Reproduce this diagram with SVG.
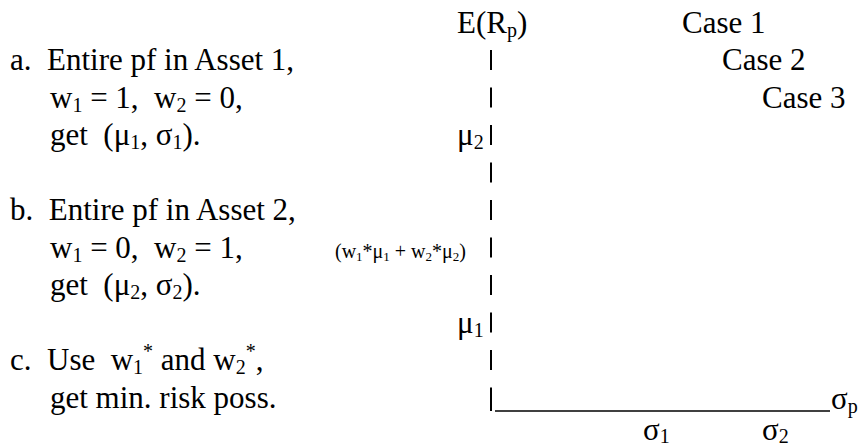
<svg xmlns="http://www.w3.org/2000/svg" width="863" height="446" viewBox="0 0 863 446">
<style>
text{font-size:31px;fill:#000;white-space:pre}
.sm{font-size:20px}
.sub{font-size:20px}
.sub2{font-size:13px}
.axis{stroke:#000;fill:none}
</style>
<rect width="863" height="446" fill="#fff"/>
<g font-family="'Liberation Serif', 'DejaVu Serif', 'Times New Roman', Times, serif">
<g id="steps">
<text x="10" y="70" xml:space="preserve">a.  Entire pf in Asset 1,</text>
<text x="50" y="107.5" xml:space="preserve">w<tspan class="sub" dy="4">1</tspan><tspan dy="-4"> = 1,  w</tspan><tspan class="sub" dy="4">2</tspan><tspan dy="-4"> = 0,</tspan></text>
<text x="50" y="145" xml:space="preserve">get  (μ<tspan class="sub" dy="4">1</tspan><tspan dy="-4">, σ</tspan><tspan class="sub" dy="4">1</tspan><tspan dy="-4">).</tspan></text>
<text x="10" y="220" xml:space="preserve">b.  Entire pf in Asset 2,</text>
<text x="50" y="257.5" xml:space="preserve">w<tspan class="sub" dy="4">1</tspan><tspan dy="-4"> = 0,  w</tspan><tspan class="sub" dy="4">2</tspan><tspan dy="-4"> = 1,</tspan></text>
<text x="50" y="295" xml:space="preserve">get  (μ<tspan class="sub" dy="4">2</tspan><tspan dy="-4">, σ</tspan><tspan class="sub" dy="4">2</tspan><tspan dy="-4">).</tspan></text>
<text x="10" y="370" xml:space="preserve">c.  Use  w<tspan class="sub" dy="4">1</tspan><tspan class="sub" dy="-16">*</tspan><tspan dy="12"> and w</tspan><tspan class="sub" dy="4">2</tspan><tspan class="sub" dy="-16">*</tspan><tspan dy="12">,</tspan></text>
<text x="50" y="407.5" xml:space="preserve">get min. risk poss.</text>
</g>
<g id="cases">
<text x="682" y="32.5">Case 1</text>
<text x="722" y="70">Case 2</text>
<text x="762" y="107.5">Case 3</text>
</g>
<g id="y-axis">
<text x="457" y="32.5">E(R<tspan class="sub" dy="4">p</tspan><tspan dy="-4">)</tspan></text>
<line class="axis" x1="491" y1="50" x2="491" y2="407.5" stroke-width="2" stroke-dasharray="20 17.5"/>
<line class="axis" x1="491" y1="405" x2="491" y2="411" stroke-width="2"/>
<text x="457" y="145">μ<tspan class="sub" dy="4">2</tspan></text>
<text class="sm" x="335" y="257.5">(w<tspan class="sub2" dy="3">1</tspan><tspan dy="-3">*μ</tspan><tspan class="sub2" dy="3">1</tspan><tspan dy="-3"> + w</tspan><tspan class="sub2" dy="3">2</tspan><tspan dy="-3">*μ</tspan><tspan class="sub2" dy="3">2</tspan><tspan dy="-3">)</tspan></text>
<text x="457" y="332.5">μ<tspan class="sub" dy="4">1</tspan></text>
</g>
<g id="x-axis">
<line class="axis" x1="495" y1="411" x2="830" y2="411" stroke-width="1.6"/>
<text x="831" y="409">σ<tspan class="sub" dy="4">p</tspan></text>
<text x="643" y="440">σ<tspan class="sub" dy="3">1</tspan></text>
<text x="762" y="440">σ<tspan class="sub" dy="3">2</tspan></text>
</g>
</g>
</svg>
